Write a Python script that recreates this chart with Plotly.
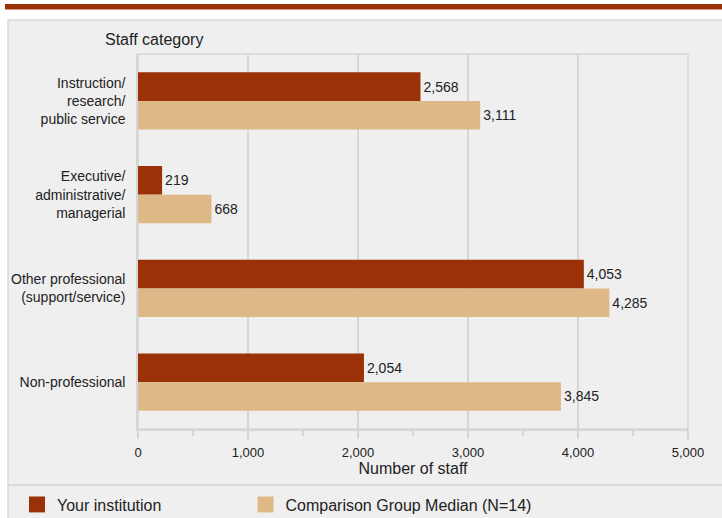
import plotly.graph_objects as go

categories = ["Instruction/<br>research/<br>public service",
              "Executive/<br>administrative/<br>managerial",
              "Other professional<br>(support/service)",
              "Non-professional"]
your_institution = [2568, 219, 4053, 2054]
comparison_median = [3111, 668, 4285, 3845]
series_names = ["Your institution", "Comparison Group Median (N=14)"]
tick_vals = [0, 1000, 2000, 3000, 4000, 5000]
tick_text = ["0", "1,000", "2,000", "3,000", "4,000", "5,000"]

dark = "#9b3107"
tan = "#dfb887"
txt = "#222222"
grid = "#d6d6d6"
FONT = "Liberation Sans, Arial, sans-serif"

fig = go.Figure()
for name, vals, col in [(series_names[0], your_institution, dark),
                        (series_names[1], comparison_median, tan)]:
    fig.add_trace(go.Bar(
        y=categories, x=vals, name=name, orientation="h",
        marker=dict(color=col, line=dict(width=0)),
        text=[f"{v:,}" for v in vals], textposition="outside",
        textfont=dict(size=14, color=txt, family=FONT),
        cliponaxis=False, showlegend=False, hoverinfo="x+name",
    ))
# legend entries with larger square swatches, each in its own legend box
for name, col, lg in [(series_names[0], dark, "legend"), (series_names[1], tan, "legend2")]:
    fig.add_trace(go.Scatter(
        x=[None], y=[None], mode="markers", name=name, legend=lg,
        marker=dict(symbol="square", size=17, color=col, line=dict(width=0)),
        showlegend=True,
    ))

# plot area in pixels
L, R, T, B = 138, 688, 54, 429
PW, PH = R - L, B - T

def pxx(x):
    return (x - L) / PW

def pxy(y):
    return (B - y) / PH

legend_common = dict(orientation="h", y=1 - 487.5 / 518, yanchor="top",
                     xanchor="left", xref="container", yref="container",
                     font=dict(size=16, color=txt), itemwidth=30,
                     bgcolor="rgba(0,0,0,0)")

fig.update_layout(
    width=722, height=518,
    margin=dict(l=L, r=722 - R, t=T, b=518 - B),
    paper_bgcolor="white",
    plot_bgcolor="#efefef",
    barmode="group", bargap=0.39, bargroupgap=0,
    font=dict(family=FONT, color=txt, size=13),
    showlegend=True,
    legend=dict(x=17 / 722, **legend_common),
    legend2=dict(x=245.5 / 722, **legend_common),
    xaxis=dict(range=[0, 5000], tickvals=tick_vals, ticktext=tick_text,
               showgrid=True, gridcolor=grid, gridwidth=1.5,
               zeroline=False, showline=True, linecolor=grid, linewidth=1.5,
               ticks="outside", ticklen=8, tickcolor=grid, tickwidth=1.5,
               minor=dict(ticks="outside", dtick=500, ticklen=5, tickcolor=grid, tickwidth=1.5, showgrid=False),
               tickfont=dict(size=13, color=txt), ticklabelstandoff=3,
               title=dict(text="Number of staff", font=dict(size=16, color=txt), standoff=3),
               fixedrange=True),
    yaxis=dict(autorange="reversed", showline=True, linecolor=grid, linewidth=1.5,
               ticks="", tickfont=dict(size=14, color=txt), ticklabelstandoff=8,
               showgrid=False, fixedrange=True),
    shapes=[
        dict(type="rect", xref="paper", yref="paper", layer="below",
             x0=pxx(8), x1=pxx(730), y0=pxy(530), y1=pxy(20),
             fillcolor="#efefef", line=dict(color="#d9d9d9", width=1.5)),
        dict(type="rect", xref="paper", yref="paper", x0=0, x1=1, y0=0, y1=1,
             line=dict(color=grid, width=1.5), fillcolor="rgba(0,0,0,0)", layer="below"),
        dict(type="rect", xref="paper", yref="paper", layer="above",
             x0=pxx(5), x1=pxx(730), y0=pxy(9.5), y1=pxy(4),
             fillcolor=dark, line=dict(width=0)),
        dict(type="line", xref="paper", yref="paper", layer="above",
             x0=pxx(8), x1=pxx(730), y0=pxy(485), y1=pxy(485),
             line=dict(color="#d9d9d9", width=2)),
    ],
    annotations=[
        dict(text="Staff category", xref="paper", yref="paper", x=pxx(103), y=pxy(50),
             xanchor="left", yanchor="bottom", showarrow=False,
             font=dict(size=16, color=txt)),
    ],
)

fig.write_html("out.html", config={"displayModeBar": False},
               post_script="document.body.style.margin='0';document.body.style.padding='0';")
